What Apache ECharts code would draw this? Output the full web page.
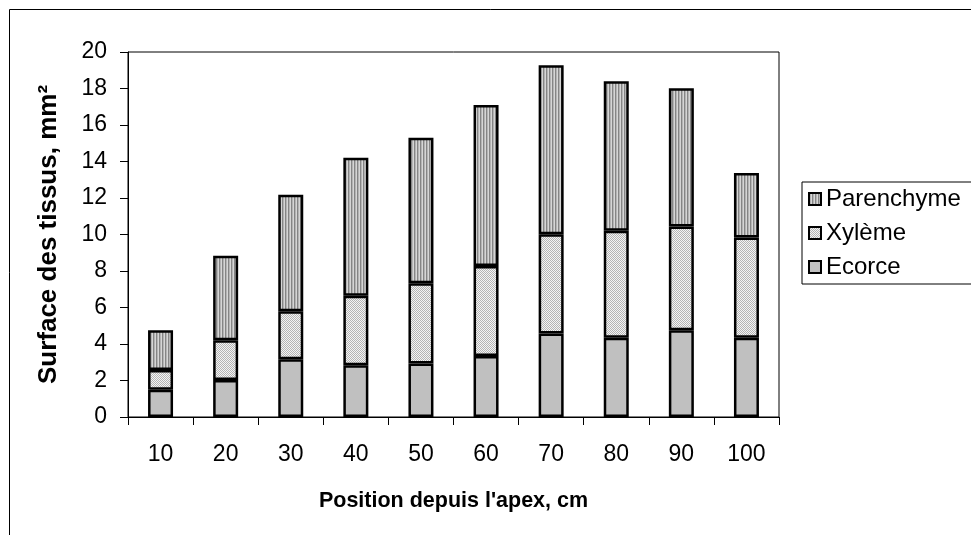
<!DOCTYPE html>
<html><head><meta charset="utf-8">
<script src="https://cdn.jsdelivr.net/npm/echarts@6/dist/echarts.min.js"></script>
<style>html,body{margin:0;padding:0;background:#fff}#c{width:971px;height:535px}</style>
</head><body><div id="c"></div>
<script>
const categories = ['10','20','30','40','50','60','70','80','90','100'];
const ecorce = [1.50, 2.03, 3.17, 2.84, 2.93, 3.34, 4.58, 4.34, 4.76, 4.34];
const xyleme = [1.08, 2.18, 2.62, 3.81, 4.40, 4.94, 5.44, 5.86, 5.68, 5.50];
const parenchyme = [2.18, 4.62, 6.39, 7.55, 7.97, 8.82, 9.25, 8.20, 7.58, 3.53];
const yTicks = [0,2,4,6,8,10,12,14,16,18,20];

function stripes(){
  const c=document.createElement('canvas');c.width=3;c.height=4;
  const g=c.getContext('2d');
  const cols=['#858585','#b4b4b4','#d6d6d6'];
  for(let x=0;x<3;x++){g.fillStyle=cols[x];g.fillRect(x,0,1,4);}
  return c;
}
function dots(){
  const c=document.createElement('canvas');c.width=2;c.height=2;
  const g=c.getContext('2d');
  g.fillStyle='#f4f4f4';g.fillRect(0,0,2,2);
  g.fillStyle='#b4b4b4';g.fillRect(0,0,1,1);g.fillRect(1,1,1,1);
  return c;
}
const pStripe={image:stripes(),repeat:'repeat'};
const pDots={image:dots(),repeat:'repeat'};
const FONT='Liberation Sans, Arial, sans-serif';
const chart=echarts.init(document.getElementById('c'),null,{renderer:'canvas'});
const border={borderColor:'#000',borderWidth:2.5};
chart.setOption({
  animation:false,
  backgroundColor:'#fff',
  graphic:[{type:'rect',shape:{x:9.5,y:9.5,width:1000,height:600},style:{fill:'none',stroke:'#000',lineWidth:1},silent:true}],
  grid:{left:128,right:192,top:52,bottom:118,show:true,borderColor:'#000',borderWidth:1,backgroundColor:'transparent'},
  legend:{
    orient:'vertical',left:802,top:182,
    data:['Parenchyme','Xylème','Ecorce'],
    itemWidth:12,itemHeight:12,itemGap:10,
    padding:[5,16,5,6],
    borderColor:'#000',borderWidth:1,
    textStyle:{fontFamily:FONT,fontSize:24,color:'#000'},
    itemStyle:{borderColor:'#000',borderWidth:2},
    icon:'rect'
  },
  xAxis:{
    type:'category',data:categories,boundaryGap:true,
    axisLine:{lineStyle:{color:'#000',width:1}},
    axisTick:{show:true,length:8,lineStyle:{color:'#000'},alignWithLabel:false},
    axisLabel:{fontFamily:FONT,fontSize:23,color:'#000',margin:26},
    name:"Position depuis l'apex, cm",nameLocation:'middle',nameGap:73,
    nameTextStyle:{fontFamily:FONT,fontSize:21.5,fontWeight:'bold',color:'#000'}
  },
  yAxis:{
    type:'value',min:0,max:20,interval:2,
    axisLine:{show:true,lineStyle:{color:'#000',width:1}},
    axisTick:{show:true,length:8,lineStyle:{color:'#000'}},
    splitLine:{show:false},
    axisLabel:{fontFamily:FONT,fontSize:23,color:'#000',margin:21,
      formatter:v=>yTicks.includes(v)?String(v):''},
    name:'Surface des tissus, mm²',nameLocation:'middle',nameGap:66,
    nameTextStyle:{fontFamily:FONT,fontSize:26,fontWeight:'bold',color:'#000'}
  },
  series:[
    {name:'Ecorce',type:'bar',stack:'t',data:ecorce,barWidth:25,itemStyle:Object.assign({color:'#c0c0c0'},border)},
    {name:'Xylème',type:'bar',stack:'t',data:xyleme,barWidth:25,itemStyle:Object.assign({color:pDots},border)},
    {name:'Parenchyme',type:'bar',stack:'t',data:parenchyme,barWidth:25,itemStyle:Object.assign({color:pStripe},border)}
  ]
});
</script></body></html>
